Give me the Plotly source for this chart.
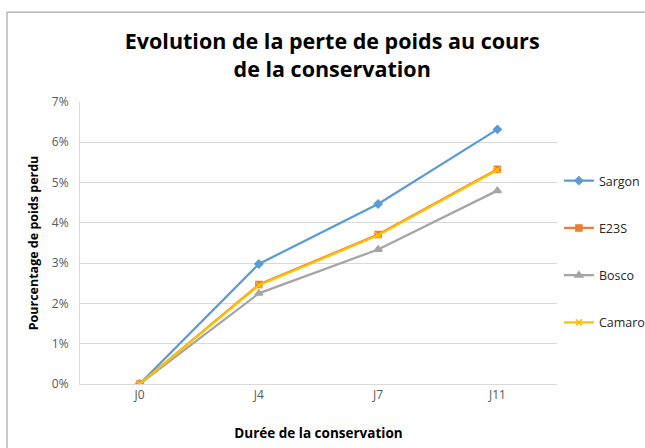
import plotly.graph_objects as go

categories = ["J0", "J4", "J7", "J11"]
sargon = [0.0, 0.0298, 0.0447, 0.0632]
e23s = [0.0, 0.0247, 0.0371, 0.0533]
bosco = [0.0, 0.0225, 0.0334, 0.0480]
caman = [0.0, 0.0245, 0.0369, 0.0531]
y_ticks = [0, 0.01, 0.02, 0.03, 0.04, 0.05, 0.06, 0.07]

series = [
    ("Sargon", sargon, "#5b9bd5", "diamond", 6),
    ("E23S", e23s, "#ed7d31", "square", 6),
    ("Bosco", bosco, "#a5a5a5", "triangle-up", 7),
    ("Camarosa", caman, "#ffc000", "x-thin", 6),
]

fig = go.Figure()
for i, (name, vals, col, sym, sz) in enumerate(series):
    fig.add_trace(go.Scatter(
        x=categories, y=vals, name=name, mode="lines+markers",
        line=dict(color=col, width=2.25),
        marker=dict(symbol=sym, size=sz, color=col, line=dict(color=col, width=1.5)),
        legendgroup=str(i),
    ))

fig.update_layout(
    width=645, height=448,
    margin=dict(l=80, r=88, t=102, b=64, autoexpand=False),
    paper_bgcolor="white", plot_bgcolor="white",
    title=dict(
        text="Evolution de la perte de poids au cours<br>de la conservation",
        x=0.515, xanchor="center", y=0.89, yanchor="top",
        font=dict(family="Open Sans", size=21.5, color="#000000", weight="bold"),
    ),
    font=dict(family="Open Sans", color="#595959", size=12),
    showlegend=True,
    legend=dict(
        x=1.004, xanchor="left", y=0.773, yanchor="top",
        tracegroupgap=28, font=dict(size=12.5, color="#262626", family="Open Sans"),
        bgcolor="rgba(0,0,0,0)", itemwidth=30,
    ),
    xaxis=dict(
        type="category", range=[-0.5, 3.5], showgrid=False,
        showline=True, linecolor="#d9d9d9", linewidth=1, ticks="",
        tickfont=dict(size=12, color="#595959"),
        title=dict(text="<b>Durée de la conservation</b>", font=dict(size=13.5, color="#000000"), standoff=26),
    ),
    yaxis=dict(
        range=[0, 0.07], tickvals=y_ticks, tickformat=".0%",
        showgrid=True, gridcolor="#d9d9d9", gridwidth=1,
        showline=True, linecolor="#d9d9d9", linewidth=1, zeroline=False,
        tickfont=dict(size=12, color="#595959"), ticks="", ticklabelstandoff=8,
        title=dict(text="<b>Pourcentage de poids perdu</b>", font=dict(size=12.5, color="#000000"), standoff=10),
    ),
)

fig.add_shape(type="line", xref="paper", yref="paper", x0=-0.153, x1=1.3, y0=1.319, y1=1.319,
              line=dict(color="#a6a6a6", width=1.2))
fig.add_shape(type="line", xref="paper", yref="paper", x0=-0.153, x1=-0.153, y0=-0.3, y1=1.319,
              line=dict(color="#a6a6a6", width=1.2))

fig.write_html("out.html", config={"displayModeBar": False},
               post_script="document.body.style.margin='0';")
